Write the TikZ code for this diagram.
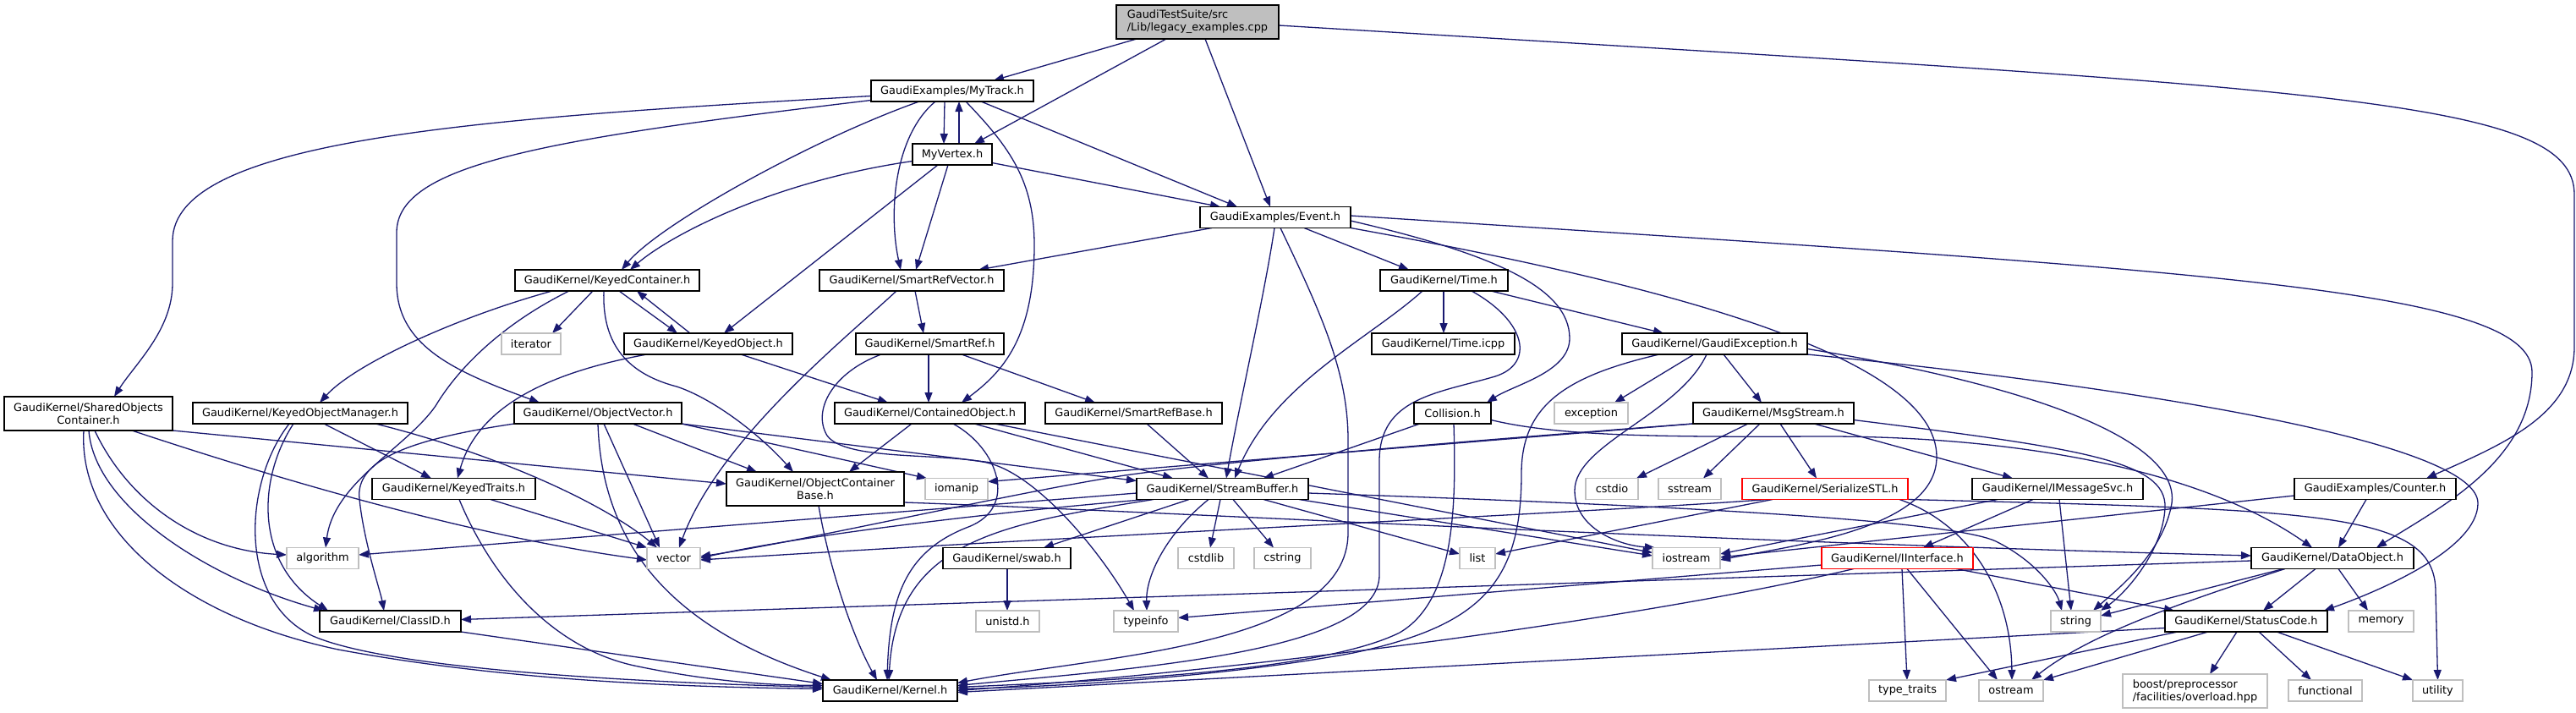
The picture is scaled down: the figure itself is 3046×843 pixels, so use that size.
\documentclass[tikz,border=0pt]{standalone}
\usepackage{fontspec}
\setmainfont{DejaVu Sans}
\usetikzlibrary{arrows.meta}
\definecolor{edgec}{RGB}{25,25,112}
\definecolor{greyb}{RGB}{191,191,191}
\pgfdeclarelayer{bg}
\pgfsetlayers{bg,main}
\begin{document}
\begin{tikzpicture}[x=1pt,y=-1pt,
  nd/.style={draw=black, fill=white, line width=1.5pt, inner sep=0pt, outer sep=0pt,
    font=\fontsize{12.9}{15}\selectfont, minimum height=25pt},
  sysbox/.style={nd, draw=greyb},
  redbox/.style={nd, draw=red},
  lnk/.style={draw=edgec, line width=1.3pt, -{Triangle[length=12pt,width=9pt]}}]
\useasboundingbox (0,0) rectangle (3046,843);
% ---------- nodes ----------
\node[nd, fill=greyb, minimum width=192pt, minimum height=40pt, align=left] (root) at (1416,26) {GaudiTestSuite/src\\/Lib/legacy\_examples.cpp};
\node[nd, minimum width=192pt] (mytrack) at (1126,107.5) {GaudiExamples/MyTrack.h};
\node[nd, minimum width=94pt] (myvertex) at (1126,182.5) {MyVertex.h};
\node[nd, minimum width=178pt] (event) at (1508,257) {GaudiExamples/Event.h};
\node[nd, minimum width=218pt] (kc) at (718,331.5) {GaudiKernel/KeyedContainer.h};
\node[nd, minimum width=218pt] (srv) at (1078,331.5) {GaudiKernel/SmartRefVector.h};
\node[nd, minimum width=151pt] (time) at (1707.5,331.5) {GaudiKernel/Time.h};
\node[sysbox, minimum width=70pt] (iterator) at (628,406.5) {iterator};
\node[nd, minimum width=199pt] (ko) at (837.5,406.5) {GaudiKernel/KeyedObject.h};
\node[nd, minimum width=175pt] (sr) at (1099.5,406.5) {GaudiKernel/SmartRef.h};
\node[nd, minimum width=169pt] (timeicpp) at (1706.5,406.5) {GaudiKernel/Time.icpp};
\node[nd, minimum width=219pt] (ge) at (2027.5,406.5) {GaudiKernel/GaudiException.h};
\node[nd, minimum width=199pt, minimum height=40pt, align=center] (so) at (104.5,489) {GaudiKernel/SharedObjects\\Container.h};
\node[nd, minimum width=254pt] (kom) at (355,488.5) {GaudiKernel/KeyedObjectManager.h};
\node[nd, minimum width=198pt] (ov) at (707,488.5) {GaudiKernel/ObjectVector.h};
\node[nd, minimum width=225pt] (co) at (1099.5,488.5) {GaudiKernel/ContainedObject.h};
\node[nd, minimum width=209pt] (srb) at (1340.5,488.5) {GaudiKernel/SmartRefBase.h};
\node[nd, minimum width=91pt] (col) at (1717.5,488.5) {Collision.h};
\node[sysbox, minimum width=87pt] (exc) at (1881.5,488.5) {exception};
\node[nd, minimum width=190pt] (ms) at (2097,488.5) {GaudiKernel/MsgStream.h};
\node[nd, minimum width=193pt] (kt) at (536.5,578) {GaudiKernel/KeyedTraits.h};
\node[nd, minimum width=210pt, minimum height=40pt, align=center] (ocb) at (964,578) {GaudiKernel/ObjectContainer\\Base.h};
\node[sysbox, minimum width=74pt] (iom) at (1131,578) {iomanip};
\node[nd, minimum width=203pt] (sb) at (1445.5,578) {GaudiKernel/StreamBuffer.h};
\node[sysbox, minimum width=62pt] (cstdio) at (1906,578) {cstdio};
\node[sysbox, minimum width=74pt] (sstream) at (1998,578) {sstream};
\node[redbox, minimum width=196pt] (ser) at (2158,578) {GaudiKernel/SerializeSTL.h};
\node[nd, minimum width=202pt] (ims) at (2433,578) {GaudiKernel/IMessageSvc.h};
\node[nd, minimum width=191pt] (counter) at (2808.5,578) {GaudiExamples/Counter.h};
\node[sysbox, minimum width=85pt] (alg) at (381.5,660) {algorithm};
\node[sysbox, minimum width=63pt] (vec) at (796.5,660) {vector};
\node[nd, minimum width=151pt] (swab) at (1190.5,660) {GaudiKernel/swab.h};
\node[sysbox, minimum width=66pt] (cstdlib) at (1426,660) {cstdlib};
\node[sysbox, minimum width=67pt] (cstring) at (1516.5,660) {cstring};
\node[sysbox, minimum width=42pt] (list) at (1747,660) {list};
\node[sysbox, minimum width=80pt] (ios) at (1994,660) {iostream};
\node[redbox, minimum width=179pt] (ii) at (2243.5,660) {GaudiKernel/IInterface.h};
\node[nd, minimum width=192pt] (do) at (2758,660) {GaudiKernel/DataObject.h};
\node[nd, minimum width=167pt] (cid) at (461.5,734.5) {GaudiKernel/ClassID.h};
\node[sysbox, minimum width=75pt] (unistd) at (1191.5,734.5) {unistd.h};
\node[sysbox, minimum width=76pt] (ti) at (1355,734.5) {typeinfo};
\node[sysbox, minimum width=59pt] (str) at (2454.5,734.5) {string};
\node[nd, minimum width=192pt] (sc) at (2656,734.5) {GaudiKernel/StatusCode.h};
\node[sysbox, minimum width=77pt] (mem) at (2815.5,734.5) {memory};
\node[nd, minimum width=159pt] (ker) at (1052.5,816.5) {GaudiKernel/Kernel.h};
\node[sysbox, minimum width=91pt] (tt) at (2255.5,816.5) {type\_traits};
\node[sysbox, minimum width=76pt] (ost) at (2378,816.5) {ostream};
\node[sysbox, minimum width=171pt, minimum height=40pt, align=left] (boost) at (2595.5,817) {boost/preprocessor\\/facilities/overload.hpp};
\node[sysbox, minimum width=87pt] (fun) at (2749.5,816.5) {functional};
\node[sysbox, minimum width=59pt] (ut) at (2882.5,816.5) {utility};
% ---------- edges ----------
\begin{pgfonlayer}{bg}
\fill[white] (0,0) rectangle (3046,843);
\draw[lnk] ([xshift=24pt]root.south west) -- ([xshift=145pt]mytrack.north west);
\draw[lnk] ([xshift=59pt]root.south west) -- ([xshift=73pt]myvertex.north west);
\draw[lnk] ([xshift=105pt]root.south west) -- ([xshift=83pt]event.north west);
\draw[lnk] ([yshift=-4pt]root.east) .. controls (2750,105) and (3044,115) .. (3044,230) -- (3044,410) .. controls (3044,490) and (2960,525) .. ([xshift=156pt]counter.north west);
\draw[lnk] ([xshift=87pt]mytrack.south west) -- ([xshift=37pt]myvertex.north west);
\draw[lnk] ([xshift=55pt]myvertex.north west) -- ([xshift=104pt]mytrack.south west);
\draw[lnk] ([yshift=-6pt]mytrack.west) .. controls (560,140) and (204,165) .. (204,285) -- (204,335) .. controls (204,390) and (160,430) .. ([xshift=130pt]so.north west);
\draw[lnk] ([yshift=-11pt]mytrack.west) .. controls (640,165) and (469,195) .. (469,275) -- (469,335) .. controls (469,410) and (540,440) .. ([xshift=30pt]ov.north west);
\draw[lnk] ([xshift=57pt]mytrack.south west) .. controls (960,165) and (780,265) .. ([xshift=126pt]kc.north west);
\draw[lnk] ([yshift=-8pt]myvertex.west) .. controls (910,215) and (790,280) .. ([xshift=136pt]kc.north west);
\draw[lnk] ([xshift=30pt]myvertex.south west) -- ([xshift=118pt]ko.north west);
\draw[lnk] ([xshift=76pt]mytrack.south west) .. controls (1058,160) and (1050,250) .. ([xshift=96pt]srv.north west);
\draw[lnk] ([xshift=42pt]myvertex.south west) -- ([xshift=114pt]srv.north west);
\draw[lnk] ([xshift=14pt]event.south west) -- ([xshift=188pt]srv.north west);
\draw[lnk] ([xshift=112pt]mytrack.south west) .. controls (1195,175) and (1223,215) .. (1223,290) .. controls (1223,400) and (1185,440) .. ([xshift=150pt]co.north west);
\draw[lnk] ([xshift=130pt]mytrack.south west) -- ([xshift=44pt]event.north west);
\draw[lnk] ([yshift=-10pt]myvertex.east) -- ([xshift=24pt]event.north west);
% KeyedContainer
\draw[lnk] ([xshift=44pt]kc.south west) .. controls (540,375) and (420,430) .. ([xshift=150pt]kom.north west);
\draw[lnk] ([xshift=64pt]kc.south west) .. controls (600,380) and (545,430) .. (515,480) .. controls (480,530) and (395,570) .. ([xshift=46pt]alg.north west);
\draw[lnk] ([xshift=92pt]kc.south west) -- ([xshift=60pt]iterator.north west);
\draw[lnk] ([xshift=105pt]kc.south west) .. controls (712,400) and (735,440) .. (800,457) .. controls (840,470) and (895,510) .. ([xshift=79pt]ocb.north west);
\draw[lnk] ([xshift=123pt]kc.south west) -- ([xshift=63pt]ko.north west);
\draw[lnk] ([xshift=78pt]ko.north west) -- ([xshift=144pt]kc.south west);
\draw[lnk] ([xshift=27pt]ko.south west) .. controls (650,440) and (565,480) .. ([xshift=101pt]kt.north west);
\draw[lnk] ([xshift=138pt]ko.south west) -- ([xshift=63pt]co.north west);
% SmartRefVector / SmartRef
\draw[lnk] ([xshift=113pt]srv.south west) -- ([xshift=80pt]sr.north west);
\draw[lnk] ([xshift=91pt]srv.south west) .. controls (1000,400) and (850,520) .. ([xshift=38pt]vec.north west);
\draw[lnk] ([xshift=86pt]sr.south west) -- ([xshift=111pt]co.north west);
\draw[lnk] ([xshift=125pt]sr.south west) -- ([xshift=59pt]srb.north west);
\draw[lnk] ([xshift=30pt]sr.south west) .. controls (985,440) and (960,485) .. (978,515) .. controls (1000,545) and (1110,535) .. (1167,547) .. controls (1225,560) and (1300,650) .. ([xshift=24pt]ti.north west);
% Time
\draw[lnk] ([xshift=50pt]time.south west) .. controls (1620,400) and (1505,455) .. ([xshift=116pt]sb.north west);
\draw[lnk] ([xshift=75pt]time.south west) -- ([xshift=85pt]timeicpp.north west);
\draw[lnk] ([xshift=108pt]time.south west) .. controls (1805,380) and (1815,430) .. (1768,445) .. controls (1700,465) and (1631,470) .. (1631,545) -- (1631,680) .. controls (1631,770) and (1350,790) .. ([yshift=6pt]ker.east);
\draw[lnk] ([xshift=131pt]time.south west) -- ([xshift=49pt]ge.north west);
% Event
\draw[lnk] ([xshift=88pt]event.south west) .. controls (1495,350) and (1465,480) .. ([xshift=106pt]sb.north west);
\draw[lnk] ([xshift=95pt]event.south west) .. controls (1562,370) and (1594,440) .. (1594,520) -- (1594,630) .. controls (1594,765) and (1300,775) .. ([yshift=9pt]ker.east);
\draw[lnk] ([xshift=123pt]event.south west) -- ([xshift=34pt]time.north west);
\draw[lnk] ([yshift=-4pt]event.east) .. controls (1765,300) and (1856,340) .. (1856,400) .. controls (1856,440) and (1790,455) .. ([xshift=86pt]col.north west);
\draw[lnk] (event.south east) .. controls (1960,335) and (2290,420) .. (2290,540) .. controls (2290,625) and (2120,645) .. ([yshift=-2pt]ios.east);
\draw[lnk] ([yshift=2pt]event.east) .. controls (2600,320) and (2994,340) .. (2994,440) .. controls (2994,545) and (2885,600) .. ([xshift=148pt]do.north west);
% Collision
\draw[lnk] ([xshift=7pt]col.south west) -- ([xshift=150pt]sb.north west);
\draw[lnk] ([xshift=47pt]col.south west) .. controls (1722,600) and (1720,710) .. (1655,748) .. controls (1560,795) and (1300,805) .. ([yshift=4pt]ker.east);
\draw[lnk] ([yshift=-8pt]col.east) .. controls (1840,515) and (1950,517) .. (2150,516) .. controls (2400,515) and (2610,560) .. ([xshift=72pt]do.north west);
% GaudiException
\draw[lnk] ([xshift=85pt]ge.south west) -- ([xshift=71pt]exc.north west);
\draw[lnk] ([xshift=120pt]ge.south west) -- ([xshift=81pt]ms.north west);
\draw[lnk] ([xshift=100pt]ge.south west) .. controls (1985,490) and (1862,525) .. (1862,580) .. controls (1862,625) and (1915,645) .. ([xshift=3pt]ios.north west);
\draw[lnk] ([xshift=44pt]ge.south west) .. controls (1850,445) and (1799,480) .. (1799,560) .. controls (1799,690) and (1750,740) .. (1600,772) .. controls (1450,800) and (1250,812) .. ([yshift=2pt]ker.east);
\draw[lnk] (ge.south east) .. controls (2500,455) and (2930,520) .. (2930,595) .. controls (2930,650) and (2810,700) .. ([xshift=188pt]sc.north west);
\draw[lnk] ([yshift=-6pt]ge.east) .. controls (2400,455) and (2578,520) .. (2568,595) .. controls (2558,655) and (2500,700) .. ([xshift=50pt]str.north west);
% MsgStream
\draw[lnk] ([xshift=65pt]ms.south west) -- ([xshift=60pt]cstdio.north west);
\draw[lnk] ([xshift=79pt]ms.south west) -- ([xshift=53pt]sstream.north west);
\draw[lnk] ([xshift=103pt]ms.south west) -- ([xshift=88pt]ser.north west);
\draw[lnk] ([xshift=143pt]ms.south west) -- ([xshift=48pt]ims.north west);
\draw[lnk] ([yshift=-8pt]ms.east) .. controls (2460,530) and (2562,545) .. (2560,600) .. controls (2558,650) and (2515,700) .. (str.north east);
\draw[lnk] (ms.south west) -- ([yshift=-4pt]iom.north east);
\draw[lnk] (ms.south west) .. controls (1750,520) and (1450,545) .. (1330,562) .. controls (1200,582) and (950,640) .. ([yshift=2pt]vec.east);
% SerializeSTL
\draw[lnk] ([xshift=36pt]ser.south west) -- ([yshift=5pt]list.east);
\draw[lnk] ([xshift=30pt]ser.south west) .. controls (1900,605) and (1300,632) .. ([yshift=-2pt]vec.east);
\draw[lnk] ([xshift=-10pt]ser.south east) .. controls (2330,620) and (2378,700) .. ([xshift=39pt]ost.north west);
\draw[lnk] (ser.south east) .. controls (2750,603) and (2880,605) .. (2880,700) -- (ut.north);
% IMessageSvc
\draw[lnk] ([xshift=30pt]ims.south west) -- ([yshift=5pt]ios.east);
\draw[lnk] ([xshift=72pt]ims.south west) -- ([xshift=120pt]ii.north west);
\draw[lnk] ([xshift=103pt]ims.south west) -- ([xshift=24pt]str.north west);
% Counter
\draw[lnk] ([yshift=-8pt]counter.west) -- ([yshift=1pt]ios.east);
\draw[lnk] ([xshift=85pt]counter.south west) -- ([xshift=103pt]do.north west);
% IInterface
\draw[lnk] ([yshift=-8pt]ii.west) -- ([yshift=4pt]ti.east);
\draw[lnk] ([xshift=38pt]ii.south west) .. controls (1950,730) and (1500,790) .. (ker.east);
\draw[lnk] ([xshift=-20pt]ii.south east) -- ([xshift=11pt]sc.north west);
\draw[lnk] ([xshift=95pt]ii.south west) -- ([xshift=45pt]tt.north west);
\draw[lnk] ([xshift=101pt]ii.south west) -- ([xshift=22pt]ost.north west);
% DataObject
\draw[lnk] ([yshift=-3pt]do.west) -- ([yshift=2pt]cid.east);
\draw[lnk] ([xshift=38pt]do.south west) -- ([yshift=-6pt]str.north east);
\draw[lnk] ([xshift=40pt]do.south west) .. controls (2580,712) and (2470,750) .. ([xshift=62pt]ost.north west);
\draw[lnk] ([xshift=76pt]do.south west) -- ([xshift=116pt]sc.north west);
\draw[lnk] ([xshift=103pt]do.south west) -- ([xshift=23pt]mem.north west);
% ObjectContainerBase
\draw[lnk] ([yshift=4pt]ocb.south east) .. controls (1400,606) and (2000,640) .. ([yshift=3pt]do.west);
\draw[lnk] ([xshift=109pt]ocb.south west) .. controls (982,680) and (1012,760) .. ([xshift=64pt]ker.north west);
% ContainedObject
\draw[lnk] ([xshift=91pt]co.south west) -- ([xshift=145pt]ocb.north west);
\draw[lnk] ([xshift=140pt]co.south west) .. controls (1180,530) and (1205,600) .. (1145,623) .. controls (1075,650) and (1052,700) .. ([xshift=76pt]ker.north west);
\draw[lnk] ([xshift=165pt]co.south west) -- ([xshift=43pt]sb.north west);
\draw[lnk] ([xshift=189pt]co.south west) -- ([yshift=-6pt]ios.north west);
% ObjectVector
\draw[lnk] (ov.south west) .. controls (480,520) and (420,545) .. (425,590) .. controls (430,640) and (450,700) .. ([xshift=76pt]cid.north west);
\draw[lnk] ([xshift=99pt]ov.south west) .. controls (712,650) and (800,745) .. ([xshift=10pt]ker.north west);
\draw[lnk] ([xshift=106pt]ov.south west) -- ([xshift=15pt]vec.north west);
\draw[lnk] ([xshift=140pt]ov.south west) -- ([xshift=36pt]ocb.north west);
\draw[lnk] (ov.south east) -- ([yshift=-3pt]sb.north west);
\draw[lnk] (ov.south east) -- ([xshift=2pt]iom.north west);
% KeyedObjectManager
\draw[lnk] ([xshift=119pt]kom.south west) .. controls (305,565) and (300,665) .. ([xshift=10pt]cid.north west);
\draw[lnk] ([xshift=114pt]kom.south west) .. controls (288,570) and (280,710) .. (370,752) .. controls (470,795) and (800,808) .. ([yshift=4pt]ker.west);
\draw[lnk] ([xshift=155pt]kom.south west) -- ([xshift=70pt]kt.north west);
\draw[lnk] ([xshift=216pt]kom.south west) .. controls (600,540) and (720,600) .. ([xshift=12pt]vec.north west);
% KeyedTraits
\draw[lnk] ([xshift=103pt]kt.south west) .. controls (580,680) and (650,765) .. (750,787) .. controls (850,808) and (920,810) .. ([yshift=6pt]ker.west);
\draw[lnk] ([xshift=140pt]kt.south west) -- (vec.north west);
% SharedObjectsContainer
\draw[lnk] ([xshift=94pt]so.south west) .. controls (92,630) and (220,730) .. (400,768) .. controls (600,805) and (800,812) .. ([yshift=2pt]ker.west);
\draw[lnk] ([xshift=100pt]so.south west) .. controls (112,600) and (250,685) .. ([xshift=5pt]cid.north west);
\draw[lnk] ([xshift=107pt]so.south west) .. controls (150,590) and (230,650) .. ([yshift=4pt]alg.west);
\draw[lnk] ([xshift=151pt]so.south west) .. controls (400,590) and (600,640) .. ([yshift=-2pt]vec.west);
\draw[lnk] (so.south east) -- ([yshift=6pt]ocb.west);
% StreamBuffer
\draw[lnk] ([yshift=-5pt]sb.west) -- ([yshift=4pt]alg.east);
\draw[lnk] ([xshift=12pt]sb.south west) .. controls (1200,603) and (950,632) .. (vec.east);
\draw[lnk] ([xshift=20pt]sb.south west) .. controls (1180,620) and (1060,640) .. ([xshift=78pt]ker.north west);
\draw[lnk] ([xshift=62pt]sb.south west) -- ([xshift=119pt]swab.north west);
\draw[lnk] ([xshift=85pt]sb.south west) .. controls (1380,630) and (1355,680) .. ([xshift=39pt]ti.north west);
\draw[lnk] ([xshift=99pt]sb.south west) -- ([xshift=38pt]cstdlib.north west);
\draw[lnk] ([xshift=114pt]sb.south west) -- ([xshift=23pt]cstring.north west);
\draw[lnk] ([xshift=150pt]sb.south west) -- ([yshift=5pt]list.west);
\draw[lnk] ([xshift=-11pt]sb.south east) -- ([yshift=3pt]ios.west);
\draw[lnk] ([yshift=-5pt]sb.east) .. controls (1900,595) and (2300,612) .. (2360,640) .. controls (2410,665) and (2432,700) .. ([xshift=13pt]str.north west);
% others
\draw[lnk] ([xshift=120pt]srb.south west) -- ([xshift=85pt]sb.north west);
\draw[lnk] ([xshift=76pt]swab.south west) -- ([xshift=37pt]unistd.north west);
\draw[lnk] (cid.south east) -- ([yshift=8pt]ker.west);
\draw[lnk] ([yshift=-8pt]sc.west) -- ([yshift=-2pt]ker.east);
\draw[lnk] ([xshift=15pt]sc.south west) -- (tt.north east);
\draw[lnk] ([xshift=51pt]sc.south west) -- (ost.north east);
\draw[lnk] ([xshift=85pt]sc.south west) -- ([xshift=103pt]boost.north west);
\draw[lnk] ([xshift=111pt]sc.south west) -- ([xshift=27pt]fun.north west);
\draw[lnk] ([xshift=132pt]sc.south west) -- (ut.north west);
\end{pgfonlayer}
\end{tikzpicture}
\end{document}
